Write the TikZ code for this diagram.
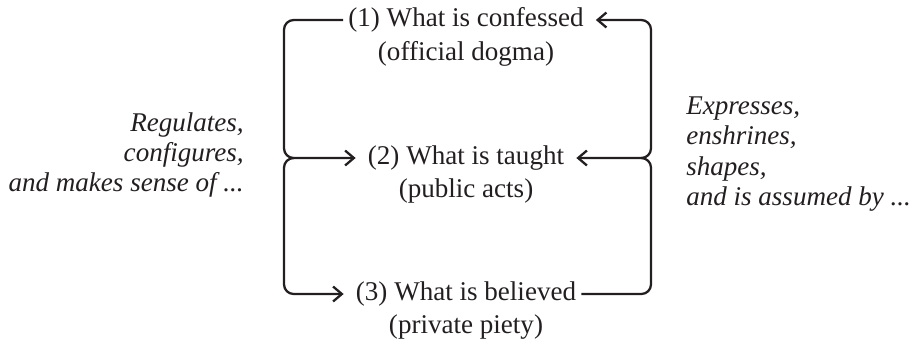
\documentclass[tikz,border=0pt]{standalone}
\usepackage{fontspec}
\setmainfont{Liberation Serif}
\usetikzlibrary{arrows.meta,positioning}
\definecolor{ink}{HTML}{231F20}

\begin{document}
\begin{tikzpicture}[x=0.02cm,y=-0.02cm]
		\useasboundingbox (0,0) rectangle (910,343);
		\begin{scope}[every node/.style={text=ink,inner sep=2.8pt,font=\fontsize{15.4}{17.5}\selectfont}]
			\node (C1) at (466,20) {(1) What is confessed};
			\node (C1s) [below=-1pt of C1] {(official dogma)};
			\node (C2) at (466,158) {(2) What is taught};
			\node (C2s) [below=-1pt of C2] {(public acts)};
			\node (C3) at (466,294) {(3) What is believed};
			\node (C3s) [below=-1pt of C3] {(private piety)};
			\node (L) [anchor=east,align=right,font=\fontsize{15.4}{17}\selectfont\itshape] at (249,155)
				{Regulates,\\configures,\\and makes sense of ...};
			\node (R) [anchor=west,align=left,font=\fontsize{15.4}{17.4}\selectfont\itshape] at (681,154)
				{Expresses,\\enshrines,\\shapes,\\and is assumed by ...};
		\end{scope}
		\coordinate (lm) at (284,158);
		\coordinate (rm) at (651,158);
		\begin{scope}[>={Straight Barb[length=5pt,width=8.5pt]},
			every path/.style={draw=ink,line width=1.3pt,rounded corners=5.5pt}]
			\path [->,shorten >=4pt] (C1.west) -- (C1.west -| lm) -- (lm) -- (C2.west);
			\path [->,shorten >=4pt] ([xshift=5.5pt]lm) -- (lm) -- (lm |- C3.west) -- (C3.west);
			\path [->,shorten >=4pt] (C3.east) -- (C3.east -| rm) -- (rm) -- (C2.east);
			\path [->,shorten >=4pt] ([xshift=-5.5pt]rm) -- (rm) -- (rm |- C1.east) -- (C1.east);
		\end{scope}
	\end{tikzpicture}
\end{document}
